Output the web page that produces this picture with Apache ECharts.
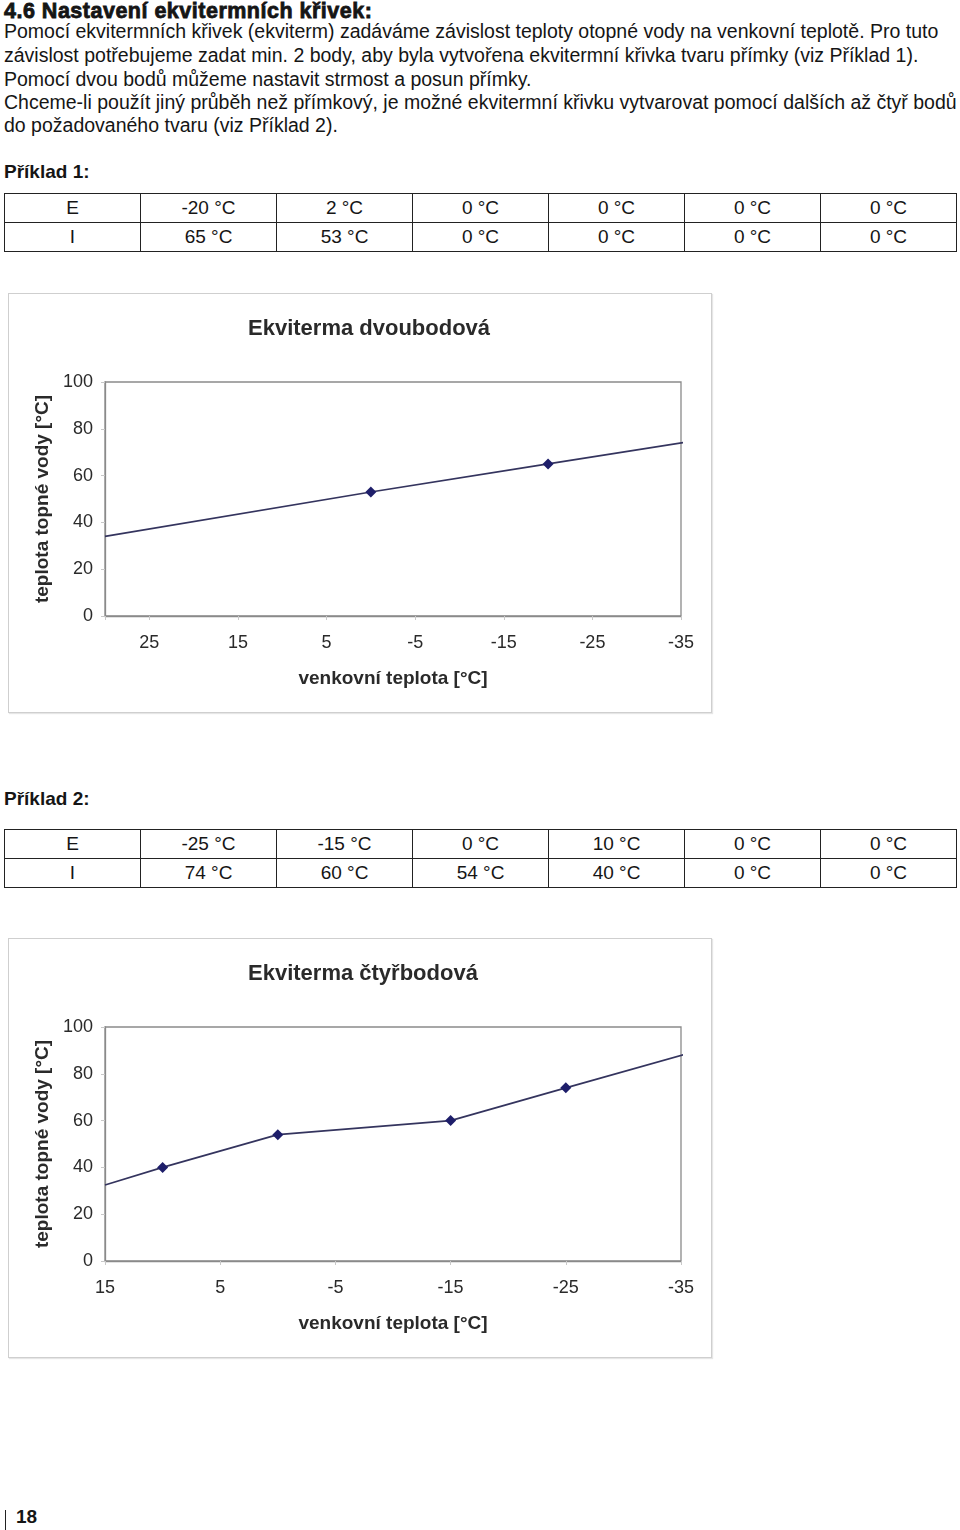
<!DOCTYPE html>
<html><head><meta charset="utf-8">
<script src="https://cdn.jsdelivr.net/npm/echarts@6/dist/echarts.min.js"></script>
<style>
html,body{margin:0;padding:0;background:#fff;}
body{width:960px;height:1530px;position:relative;overflow:hidden;font-family:"Liberation Sans",Arial,sans-serif;color:#151515;}
.t{position:absolute;white-space:nowrap;font-size:19.5px;line-height:22px;}
.h{position:absolute;white-space:nowrap;font-weight:bold;font-size:21.5px;line-height:22px;-webkit-text-stroke:0.8px #151515;letter-spacing:0.5px;}
.b{position:absolute;white-space:nowrap;font-weight:bold;font-size:19px;line-height:22px;}
table{position:absolute;border-collapse:collapse;table-layout:fixed;}
td{border:1px solid #222;text-align:center;font-size:19px;height:28px;padding:0;width:135px;}
.box{position:absolute;left:8px;width:704px;height:420px;border:1px solid #cfcfcf;box-sizing:border-box;box-shadow:1px 1px 1px #e6e6e6;}
.box div.c{width:702px;height:418px;}
</style></head>
<body>
<div class="h" style="left:4px;top:0px;">4.6 Nastavení ekvitermních křivek:</div>
<div class="t" style="left:4px;top:20px;">Pomocí ekvitermních křivek (ekviterm) zadáváme závislost teploty otopné vody na venkovní teplotě. Pro tuto</div>
<div class="t" style="left:4px;top:44px;">závislost potřebujeme zadat min. 2 body, aby byla vytvořena ekvitermní křivka tvaru přímky (viz Příklad 1).</div>
<div class="t" style="left:4px;top:68px;">Pomocí dvou bodů můžeme nastavit strmost a posun přímky.</div>
<div class="t" style="left:4px;top:91px;">Chceme-li použít jiný průběh než přímkový, je možné ekvitermní křivku vytvarovat pomocí dalších až čtyř bodů</div>
<div class="t" style="left:4px;top:114px;">do požadovaného tvaru (viz Příklad 2).</div>

<div class="b" style="left:4px;top:161px;">Příklad 1:</div>
<table id="tab1" style="left:4px;top:193px;"></table>
<div class="box" style="top:293px;"><div class="c" id="chart1"></div></div>

<div class="b" style="left:4px;top:788px;">Příklad 2:</div>
<table id="tab2" style="left:4px;top:829px;"></table>
<div class="box" style="top:938px;"><div class="c" id="chart2"></div></div>

<div style="position:absolute;left:5px;top:1510px;width:1px;height:20px;background:#222;"></div>
<div class="b" style="left:16px;top:1506px;">18</div>

<script>
// ---- Table data ----
const rowLabels = ['E', 'I'];
const tab1E = ['-20 °C', '2 °C', '0 °C', '0 °C', '0 °C', '0 °C'];
const tab1I = ['65 °C', '53 °C', '0 °C', '0 °C', '0 °C', '0 °C'];
const tab2E = ['-25 °C', '-15 °C', '0 °C', '10 °C', '0 °C', '0 °C'];
const tab2I = ['74 °C', '60 °C', '54 °C', '40 °C', '0 °C', '0 °C'];

// ---- Chart 1 data (as drawn) ----
const chart1Title = 'Ekviterma dvoubodová';
const ex1Outdoor = [30, 0, -20, -35.5];
const ex1Water = [34, 53, 65, 74.3];
const ex1Marked = [false, true, true, false];

// ---- Chart 2 data (as drawn) ----
const chart2Title = 'Ekviterma čtyřbodová';
const ex2Outdoor = [15, 10, 0, -15, -25, -35.5];
const ex2Water = [32.5, 40, 54, 60, 74, 88.5];
const ex2Marked = [false, true, true, true, true, false];

const xAxisName = 'venkovní teplota [°C]';
const yAxisName = 'teplota topné vody [°C]';

function fillTable(id, e, i) {
  const t = document.getElementById(id);
  [[rowLabels[0]].concat(e), [rowLabels[1]].concat(i)].forEach(r => {
    const tr = document.createElement('tr');
    r.forEach(v => { const td = document.createElement('td'); td.textContent = v; tr.appendChild(td); });
    t.appendChild(tr);
  });
}
fillTable('tab1', tab1E, tab1I);
fillTable('tab2', tab2E, tab2I);

const FONT = '"Liberation Sans", Arial, sans-serif';

function makeOption(title, xs, ys, marked, xMin, xMax) {
  const data = xs.map((x, k) => ({
    value: [x, ys[k]],
    symbol: marked[k] ? 'diamond' : 'none'
  }));
  return {
    animation: false,
    title: {
      text: title, left: 234, top: 19,
      textStyle: { fontFamily: FONT, fontSize: 22, fontWeight: 'bold', color: '#2a2a2a' }
    },
    grid: { left: 96, top: 88, width: 576, height: 234, show: true, borderColor: '#8a8a8a', borderWidth: 1.3, backgroundColor: '#fff' },
    xAxis: {
      type: 'value', min: xMin, max: xMax, interval: 10, inverse: true,
      name: xAxisName, nameLocation: 'middle', nameGap: 53,
      nameTextStyle: { fontFamily: FONT, fontSize: 19, fontWeight: 'bold', color: '#2a2a2a' },
      axisLine: { show: true, onZero: false, lineStyle: { color: '#8a8a8a', width: 1.3 } },
      axisTick: { show: true, length: 4, lineStyle: { color: '#c8c8c8' } },
      splitLine: { show: false },
      axisLabel: {
        margin: 18, fontFamily: FONT, fontSize: 18, color: '#2a2a2a',
        formatter: v => (v === xMax && xMax % 10 === 0) ? '' : String(v)
      }
    },
    yAxis: {
      type: 'value', min: 0, max: 100, interval: 20,
      name: yAxisName, nameLocation: 'middle', nameGap: 53,
      nameTextStyle: { fontFamily: FONT, fontSize: 19, fontWeight: 'bold', color: '#2a2a2a' },
      axisLine: { show: true, onZero: false, lineStyle: { color: '#8a8a8a', width: 1.3 } },
      axisTick: { show: true, length: 4, lineStyle: { color: '#c8c8c8' } },
      splitLine: { show: false },
      axisLabel: { margin: 12, fontFamily: FONT, fontSize: 18, color: '#2a2a2a' }
    },
    series: [{
      type: 'line', data: data, clip: false, symbolSize: 11,
      lineStyle: { color: '#34345e', width: 1.7 },
      itemStyle: { color: '#1e1e6a' }
    }]
  };
}

echarts.init(document.getElementById('chart1'), null, { renderer: 'canvas' })
  .setOption(makeOption(chart1Title, ex1Outdoor, ex1Water, ex1Marked, -35, 30));
echarts.init(document.getElementById('chart2'), null, { renderer: 'canvas' })
  .setOption(makeOption(chart2Title, ex2Outdoor, ex2Water, ex2Marked, -35, 15));
</script>
</body></html>
